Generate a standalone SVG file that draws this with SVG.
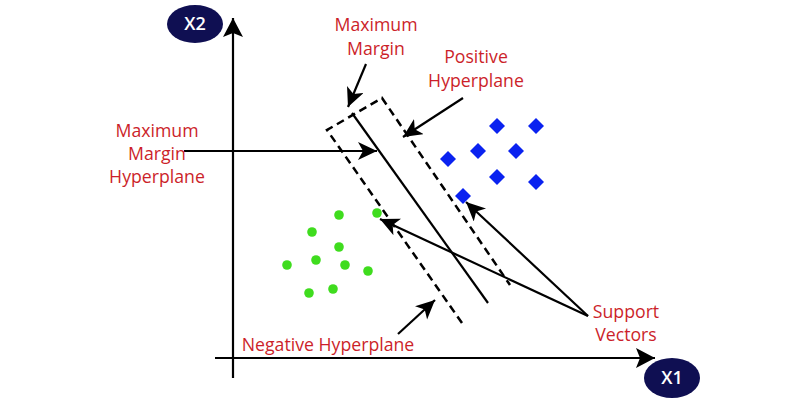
<svg xmlns="http://www.w3.org/2000/svg" width="800" height="400" viewBox="0 0 800 400">
<defs>
<style>
.lbl{font-family:"Open Sans","Noto Sans",sans-serif;font-size:17.7px;fill:#cc1f2a;text-anchor:middle}
.ax{font-family:"Open Sans","Noto Sans",sans-serif;font-size:18px;font-weight:600;fill:#fff;text-anchor:middle}
.line{stroke:#000;stroke-width:2.2;fill:none}
.dash{stroke:#000;stroke-width:2.5;fill:none;stroke-dasharray:8 5}
.g{fill:#3fdc1e}
.b{fill:#0a22f0}
.node{fill:#0f0f52}
</style>
<marker id="ah" markerUnits="userSpaceOnUse" markerWidth="22" markerHeight="20" refX="19" refY="9" orient="auto">
<path d="M0,0 L19,9 L0,18 L5,9 z" fill="#000"/>
</marker>
<marker id="axh" markerUnits="userSpaceOnUse" markerWidth="22" markerHeight="22" refX="19" refY="10" orient="auto">
<path d="M0,0 L19,10 L0,20 L4,10 z" fill="#000"/>
</marker>
</defs>
<rect width="800" height="400" fill="#fff"/>

<g id="axes">
<line class="line" x1="233" y1="378" x2="233" y2="18" marker-end="url(#axh)"/>
<line class="line" x1="215" y1="358" x2="655" y2="358" marker-end="url(#axh)"/>
</g>

<g id="x2-node">
<ellipse class="node" cx="195" cy="24" rx="28" ry="19"/>
<text class="ax" x="195" y="30">X2</text>
</g>
<g id="x1-node">
<ellipse class="node" cx="672" cy="378" rx="28" ry="20"/>
<text class="ax" x="672" y="384">X1</text>
</g>

<g id="hyperplanes">
<path class="dash" d="M462,323 L327,130 L382,98 L510,285"/>
<line class="line" x1="352" y1="113" x2="488" y2="303"/>
</g>

<g id="class-green">
<circle class="g" cx="339" cy="215" r="4.8"/>
<circle class="g" cx="377" cy="213" r="4.8"/>
<circle class="g" cx="312" cy="232" r="4.8"/>
<circle class="g" cx="339" cy="247" r="4.8"/>
<circle class="g" cx="287" cy="265" r="4.8"/>
<circle class="g" cx="316" cy="260" r="4.8"/>
<circle class="g" cx="345" cy="265" r="4.8"/>
<circle class="g" cx="368" cy="271" r="4.8"/>
<circle class="g" cx="309" cy="293" r="4.8"/>
<circle class="g" cx="333" cy="289" r="4.8"/>
</g>

<g id="class-blue">
<path class="b" d="M497,118 l8,8 l-8,8 l-8,-8 z"/>
<path class="b" d="M536,118 l8,8 l-8,8 l-8,-8 z"/>
<path class="b" d="M478,143 l8,8 l-8,8 l-8,-8 z"/>
<path class="b" d="M516,143 l8,8 l-8,8 l-8,-8 z"/>
<path class="b" d="M448,151 l8,8 l-8,8 l-8,-8 z"/>
<path class="b" d="M497,169 l8,8 l-8,8 l-8,-8 z"/>
<path class="b" d="M536,174 l8,8 l-8,8 l-8,-8 z"/>
<path class="b" d="M463,188 l8,8 l-8,8 l-8,-8 z"/>
</g>

<g id="connectors">
<line class="line" x1="366" y1="64" x2="348" y2="107" marker-end="url(#ah)"/>
<line class="line" x1="463" y1="98" x2="403" y2="137" marker-end="url(#ah)"/>
<line class="line" x1="184" y1="151" x2="377" y2="151" marker-end="url(#ah)"/>
<line class="line" x1="398" y1="334" x2="435" y2="300" marker-end="url(#ah)"/>
<line class="line" x1="588" y1="316" x2="380" y2="219" marker-end="url(#ah)"/>
<line class="line" x1="588" y1="316" x2="466" y2="202" marker-end="url(#ah)"/>
</g>

<g id="label-max-margin">
<text class="lbl" x="376" y="31">Maximum</text>
<text class="lbl" x="376" y="55">Margin</text>
</g>
<g id="label-positive">
<text class="lbl" x="476" y="63">Positive</text>
<text class="lbl" x="476" y="87">Hyperplane</text>
</g>
<g id="label-mmh">
<text class="lbl" x="157" y="137">Maximum</text>
<text class="lbl" x="157" y="160">Margin</text>
<text class="lbl" x="157" y="183">Hyperplane</text>
</g>
<g id="label-negative">
<text class="lbl" x="328" y="351">Negative Hyperplane</text>
</g>
<g id="label-support">
<text class="lbl" x="626" y="318">Support</text>
<text class="lbl" x="626" y="341">Vectors</text>
</g>
</svg>
